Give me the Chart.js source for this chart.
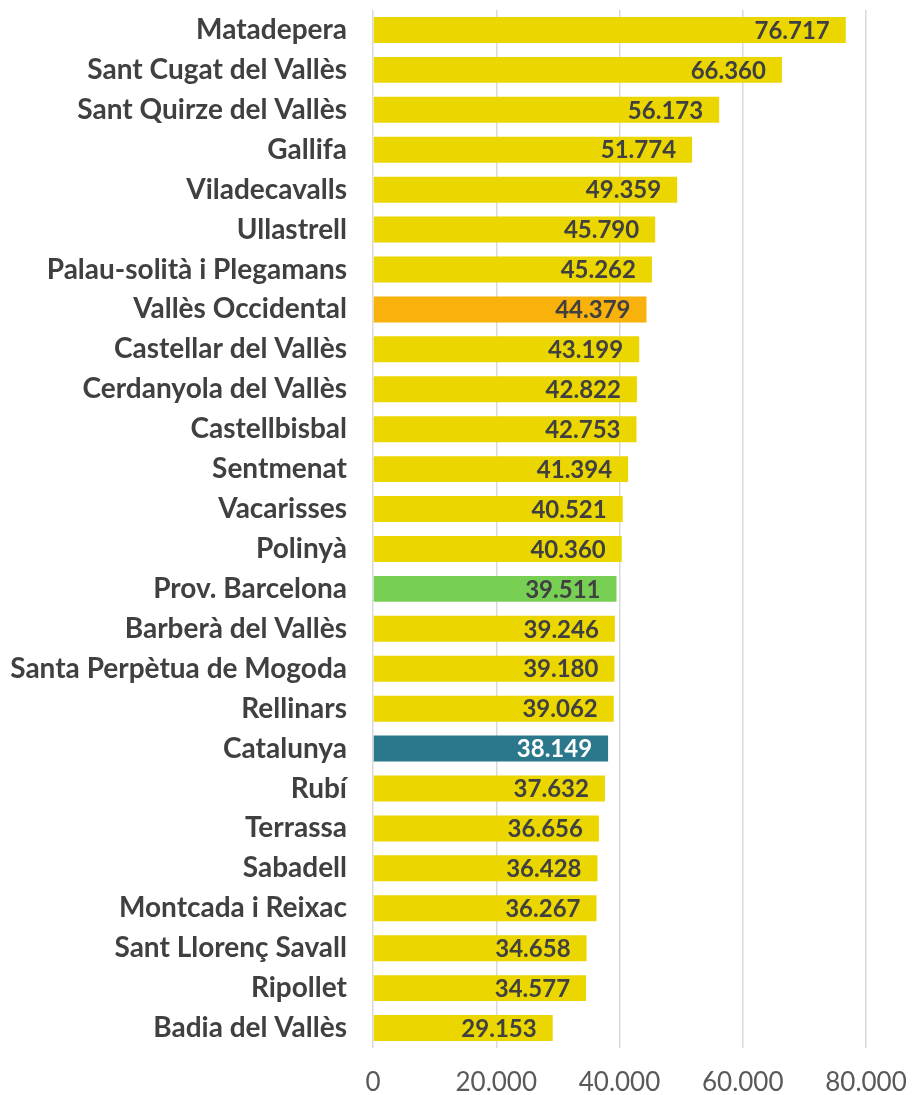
<!DOCTYPE html>
<html>
<head>
<meta charset="utf-8">
<script src="https://cdn.jsdelivr.net/npm/chart.js@4"></script>
<style>
  html, body { margin: 0; padding: 0; background: #fff; }
  #wrap { width: 912px; height: 1095px; }
</style>
</head>
<body>
<div id="wrap"><canvas id="chart"></canvas></div>
<script>
// municipis + referències territorials
const categories = [
  'Matadepera', 'Sant Cugat del Vallès', 'Sant Quirze del Vallès', 'Gallifa',
  'Viladecavalls', 'Ullastrell', 'Palau-solità i Plegamans', 'Vallès Occidental',
  'Castellar del Vallès', 'Cerdanyola del Vallès', 'Castellbisbal', 'Sentmenat',
  'Vacarisses', 'Polinyà', 'Prov. Barcelona', 'Barberà del Vallès',
  'Santa Perpètua de Mogoda', 'Rellinars', 'Catalunya', 'Rubí', 'Terrassa',
  'Sabadell', 'Montcada i Reixac', 'Sant Llorenç Savall', 'Ripollet', 'Badia del Vallès'
];
const values = [
  76717, 66360, 56173, 51774, 49359, 45790, 45262, 44379, 43199, 42822, 42753, 41394,
  40521, 40360, 39511, 39246, 39180, 39062, 38149, 37632, 36656, 36428, 36267, 34658,
  34577, 29153
];
const xTicks = [0, 20000, 40000, 60000, 80000];

// colors
const defaultColor = '#EBD600';
const highlight = {
  'Vallès Occidental': '#F9B10B',
  'Prov. Barcelona': '#77D054',
  'Catalunya': '#2B788C'
};
const barColors = categories.map(c => highlight[c] || defaultColor);

function fmt(n) {
  return String(n).replace(/\B(?=(\d{3})+(?!\d))/g, '.');
}

// etiquetes dins la barra
const barLabels = {
  id: 'barLabels',
  afterDatasetsDraw(chart) {
    const ctx = chart.ctx;
    const meta = chart.getDatasetMeta(0);
    ctx.save();
    ctx.font = 'bold 24px Lato';
    ctx.textAlign = 'right';
    ctx.textBaseline = 'middle';
    meta.data.forEach((bar, i) => {
      ctx.fillStyle = categories[i] === 'Catalunya' ? '#ffffff' : '#404040';
      ctx.fillText(fmt(values[i]), bar.x - 16, bar.y + 1);
    });
    ctx.restore();
  }
};

new Chart(document.getElementById('chart'), {
  type: 'bar',
  data: {
    labels: categories,
    datasets: [{
      data: values,
      backgroundColor: barColors,
      borderWidth: 0,
      barPercentage: 0.65,
      categoryPercentage: 1
    }]
  },
  options: {
    indexAxis: 'y',
    responsive: true,
    maintainAspectRatio: false,
    animation: false,
    layout: { padding: { top: 10, right: 46, left: 0, bottom: 0 } },
    plugins: { legend: { display: false }, tooltip: { enabled: false } },
    scales: {
      x: {
        min: 0,
        max: 80000,
        afterBuildTicks: scale => { scale.ticks = xTicks.map(v => ({ value: v })); },
        afterFit: scale => {
          scale.height = 47;
          scale.paddingLeft = 0;
          scale.paddingRight = 0;
        },
        grid: { color: '#d9d9d9', lineWidth: 1.5, drawTicks: false },
        border: { display: false },
        ticks: {
          color: '#595959',
          font: { family: 'Lato', size: 26 },
          padding: 19,
          maxRotation: 0,
          callback: v => fmt(v)
        }
      },
      y: {
        afterFit: scale => {
          scale.width = 373;
          scale.paddingTop = 0;
          scale.paddingBottom = 0;
        },
        grid: { display: false, drawTicks: false },
        border: { display: false },
        ticks: {
          color: '#404040',
          font: { family: 'Lato', size: 28, weight: 'bold' },
          padding: 26,
          autoSkip: false
        }
      }
    }
  },
  plugins: [barLabels]
});
</script>
</body>
</html>
